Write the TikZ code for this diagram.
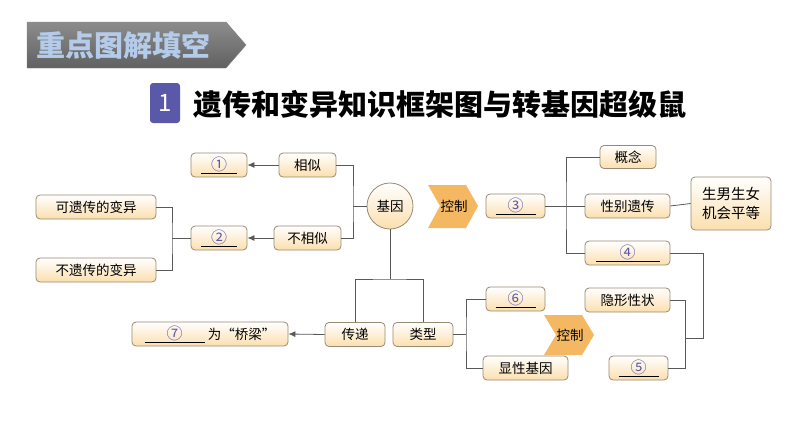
\documentclass[tikz,border=0pt]{standalone}
\usepackage{fontspec}
\setmainfont{Noto Sans CJK SC}
\usetikzlibrary{arrows.meta,shapes.geometric}
\definecolor{boxb}{HTML}{9A8A72}
\definecolor{boxf}{HTML}{FBDFAE}
\definecolor{numc}{HTML}{5A58A8}
\definecolor{arrf}{HTML}{F5B862}
\definecolor{hdt}{HTML}{B4CCEA}
\tikzset{
  bx/.style={draw=boxb, line width=0.8pt, rounded corners=4pt, top color=white, bottom color=boxf, minimum height=24pt, inner sep=2pt, font=\fontsize{13.5}{15}\selectfont},
  ln/.style={draw=black!65, line width=0.8pt},
  ar/.style={ln, -{Latex[length=7pt,width=6pt]}},
  chev/.style={fill=arrf, draw=none},
}
\newcommand{\blank}[2]{\underline{\makebox[#1pt]{\color{numc}\fontsize{16}{16}\selectfont #2}}}
\begin{document}
\begin{tikzpicture}[x=1pt,y=-1pt]
\useasboundingbox (0,0) rectangle (794,447);
% header
\shade[top color=black!45, bottom color=black!62, draw=black!50] (27,22) -- (226,22) -- (246,45) -- (226,68) -- (27,68) -- cycle;
\node[text=hdt, font=\fontsize{29}{32}\selectfont\bfseries, anchor=west] (hd) at (33,45) {重点图解填空};
\node[fill=numc, rounded corners=3pt, minimum width=30pt, minimum height=40pt, text=white, font=\fontsize{24}{26}\selectfont] (num) at (165,103) {1};
\node[anchor=west, font=\fontsize{29}{32}\selectfont\bfseries] (title) at (190,104) {遗传和变异知识框架图与转基因超级鼠};
% nodes
\node[bx, minimum width=56pt] (n1) at (219,165) {\blank{36}{①}};
\node[bx, minimum width=57pt] (xs) at (307.5,165) {相似};
\node[bx, minimum width=120pt] (kyc) at (96,207) {可遗传的变异};
\node[bx, minimum width=56pt] (n2) at (219,238) {\blank{36}{②}};
\node[bx, minimum width=67pt] (bxs) at (307.5,238) {不相似};
\node[bx, minimum width=120pt] (byc) at (96,270) {不遗传的变异};
\node[circle, draw=boxb, line width=0.8pt, top color=white, bottom color=boxf, minimum size=46pt, inner sep=0pt, font=\fontsize{13.5}{15}\selectfont] (jy) at (390,206) {基因};
\fill[chev] (428,185) -- (466,185) -- (478,206) -- (466,228) -- (428,228) -- (440,206) -- cycle;
\node[font=\fontsize{13.5}{15}\selectfont] (kz1) at (454,206) {控制};
\node[bx, minimum width=59pt] (n3) at (515.5,206) {\blank{40}{③}};
\node[bx, minimum width=56pt, minimum height=23pt] (gn) at (628,157) {概念};
\node[bx, minimum width=85pt] (xb) at (627.5,206) {性别遗传};
\node[bx, minimum width=80pt, minimum height=53pt, align=center, font=\fontsize{14.5}{19}\selectfont] (snsn) at (731,203.5) {生男生女\\机会平等};
\node[bx, minimum width=85pt] (n4) at (627.5,253) {\blank{64}{④}};
\node[bx, minimum width=85pt] (yx) at (627.5,300) {隐形性状};
\node[bx, minimum width=59pt] (n5) at (638.5,368) {\blank{40}{⑤}};
\fill[chev] (544,315) -- (582,315) -- (594,335) -- (582,355) -- (544,355) -- (556,335) -- cycle;
\node[font=\fontsize{13.5}{15}\selectfont] (kz2) at (570,335) {控制};
\node[bx, minimum width=59pt] (n6) at (515.5,299) {\blank{40}{⑥}};
\node[bx, minimum width=85pt] (xx) at (525.5,368) {显性基因};
\node[bx, minimum width=60pt] (lx) at (423,334.5) {类型};
\node[bx, minimum width=60pt] (cd) at (355,334.5) {传递};
\node[bx, minimum width=156pt] (n7) at (210,334) {\blank{60}{⑦}\ 为“桥梁”};
% connectors
\draw[ar] (xs.west) -- (n1.east);
\draw[ar] (bxs.west) -- (n2.east);
\draw[ar] (cd.west) -- (n7.east);
\draw[ln] (xs.east) -| (353,206) |- (bxs.east);
\draw[ln] (353,206) -- (jy.west);
\draw[ln] (n2.west) -- (172,238);
\draw[ln] (kyc.east) -| (172,238) |- (byc.east);
\draw[ln] (jy.south) -- (390,279);
\draw[ln] (cd.north) |- (390,279) -| (lx.north);
\draw[ln] (lx.east) -- (466,334.5);
\draw[ln] (n6.west) -| (466,334.5) |- (xx.west);
\draw[ln] (n3.east) -- (xb.west);
\draw[ln] (gn.west) -| (566,206) |- (n4.west);
\draw[ln] (xb.east) -- (snsn.west);
\draw[ln] (n4.east) -| (703,338) -- (685,338);
\draw[ln] (yx.east) -| (685,368) -- (n5.east);
\end{tikzpicture}
\end{document}
